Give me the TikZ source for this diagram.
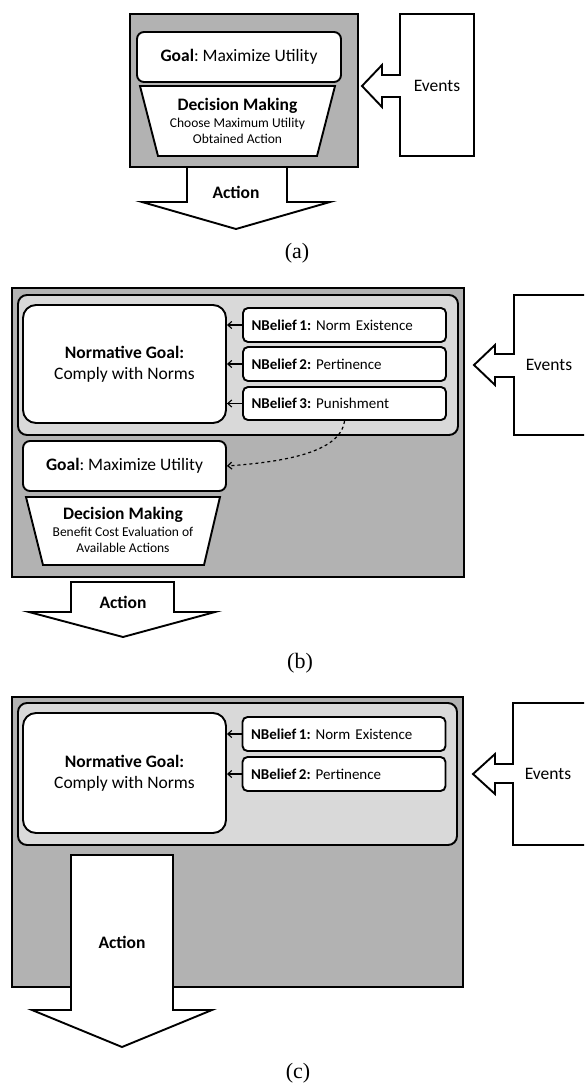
\documentclass[tikz,border=0pt]{standalone}
\usepackage{fontspec}
\setmainfont{Carlito}
\newfontfamily\capfont{Liberation Serif}
\usetikzlibrary{arrows.meta}
\frenchspacing

\definecolor{darkpanel}{RGB}{178,178,178}
\definecolor{lightpanel}{RGB}{217,217,217}

\tikzset{
	outer/.style={draw, line width=1.9pt, fill=darkpanel},
	inner/.style={draw, line width=1.9pt, fill=lightpanel, rounded corners=9pt},
	box/.style={draw, line width=1.9pt, fill=white, rounded corners=7pt, align=center, inner sep=0pt, font=\fontsize{17.5}{21}\selectfont},
	belief/.style={box, rounded corners=5pt, minimum width=203pt, minimum height=34pt, text width=186pt, align=left, font=\fontsize{15}{18}\selectfont},
	trap/.style={draw, line width=1.9pt, fill=white},
	dectext/.style={align=center, inner sep=0pt, font=\fontsize{13.5}{16}\selectfont},
	block/.style={draw, line width=1.9pt, fill=white, line join=miter},
	label/.style={inner sep=0pt, font=\fontsize{17.5}{21}\selectfont},
	caption/.style={inner sep=0pt, font=\capfont\fontsize{22}{26}\selectfont},
	feed/.style={line width=1.1pt, -{Straight Barb[length=4pt,width=7pt]}}
}

\begin{document}
\begin{tikzpicture}[x=1pt,y=-1pt]
	\clip (0,0) rectangle (584,1084);

	% (a)
	\draw[block] (187,167.5) -- (187,202) -- (142,202) -- (236,229) -- (330,202) -- (287,202) -- (287,167.5);
	\node[label, font=\fontsize{17.5}{21}\selectfont\bfseries] (actA) at (236,192) {Action};
	\draw[outer] (130,14) rectangle (358,167);
	\node[box, minimum width=204pt, minimum height=50pt] (goalA) at (239,57) {\textbf{Goal}: Maximize Utility};
	\draw[trap] (140,86) -- (335,86) -- (317,156) -- (158,156) -- cycle;
	\node[dectext] (decA) at (237.5,121) {{\fontsize{17.5}{20}\selectfont\bfseries Decision Making}\\[1pt] Choose Maximum Utility\\ Obtained Action};
	\draw[block] (400,75) -- (382,75) -- (382,65) -- (362,86) -- (382,107) -- (382,97) -- (400,97) -- (400,156) -- (474,156) -- (474,14) -- (400,14) -- cycle;
	\node[label] (evA) at (437,86) {Events};
	\node[caption] (capA) at (297,253) {(a)};

	% (b)
	\draw[outer] (12,288) rectangle (464,577);
	\draw[inner] (18,295) rectangle (458,435);
	\node[box, rounded corners=13pt, minimum width=203pt, minimum height=118pt] (normB) at (124.5,364) {\textbf{Normative Goal:}\\Comply with Norms};
	\node[belief] (b1) at (344.5,325) {\textbf{NBelief\,1:} Norm Existence};
	\node[belief] (b2) at (344.5,364) {\textbf{NBelief\,2:} Pertinence};
	\node[belief, minimum height=33pt] (b3) at (344.5,403.5) {\textbf{NBelief\,3:} Punishment};
	\draw[feed] (b1.west) -- (normB.east |- b1.west);
	\draw[feed] (b2.west) -- (normB.east |- b2.west);
	\draw[feed] (b3.west) -- (normB.east |- b3.west);
	\node[box, minimum width=203pt, minimum height=50pt] (goalB) at (124.5,466) {\textbf{Goal}: Maximize Utility};
	\draw[feed, line width=1.2pt, dashed] (b3.south) .. controls +(-4,32) and +(55,-4) .. (goalB.east);
	\draw[trap] (26,497) -- (220,497) -- (204,565) -- (43,565) -- cycle;
	\node[dectext] (decB) at (123,530) {{\fontsize{17.5}{20}\selectfont\bfseries Decision Making}\\[1pt] Benefit Cost Evaluation of\\ Available Actions};
	\draw[block] (514,354) -- (495,354) -- (495,345) -- (474,365) -- (495,385) -- (495,377) -- (514,377) -- (514,435) -- (600,435) -- (600,295) -- (514,295) -- cycle;
	\node[label] (evB) at (549,365) {Events};
	\draw[block] (71,582) -- (71,612) -- (29,612) -- (123,637) -- (215,612) -- (174,612) -- (174,582) -- cycle;
	\node[label, font=\fontsize{17.5}{21}\selectfont\bfseries] (actB) at (123,602) {Action};
	\node[caption] (capB) at (300,663) {(b)};

	% (c)
	\draw[outer] (12,697) rectangle (463,987);
	\draw[inner] (18,703) rectangle (457,845);
	\node[box, rounded corners=13pt, minimum width=203pt, minimum height=120pt] (normC) at (124.5,773) {\textbf{Normative Goal:}\\Comply with Norms};
	\node[belief] (c1) at (344,734) {\textbf{NBelief\,1:} Norm Existence};
	\node[belief] (c2) at (344,774) {\textbf{NBelief\,2:} Pertinence};
	\draw[feed] (c1.west) -- (normC.east |- c1.west);
	\draw[feed] (c2.west) -- (normC.east |- c2.west);
	\draw[block] (513,764) -- (495,764) -- (495,754) -- (473,774) -- (495,794) -- (495,783) -- (513,783) -- (513,845) -- (600,845) -- (600,703) -- (513,703) -- cycle;
	\node[label] (evC) at (548,774) {Events};
	\draw[block] (71,855) -- (71,1010) -- (32,1010) -- (122,1047) -- (212,1010) -- (173,1010) -- (173,855) -- cycle;
	\node[label, font=\fontsize{17.5}{21}\selectfont\bfseries] (actC) at (122,942) {Action};
	\node[caption] (capC) at (298,1073) {(c)};
\end{tikzpicture}
\end{document}
